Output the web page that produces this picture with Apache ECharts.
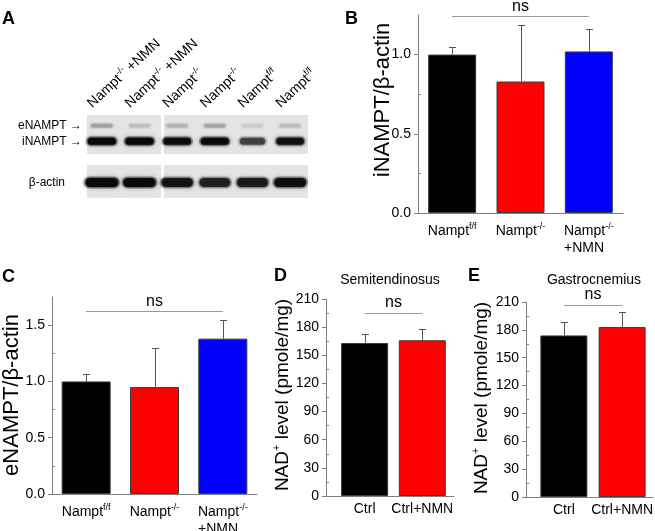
<!DOCTYPE html>
<html><head><meta charset="utf-8">
<script src="https://cdn.jsdelivr.net/npm/echarts@6/dist/echarts.min.js"></script>
<style>html,body{margin:0;padding:0;background:#fff}#c{width:655px;height:531px}</style>
</head><body><div id="c"></div>
<script>
// ---------- Panel A : western blot ----------
const laneGenotype = ['-/-', '-/-', '-/-', '-/-', 'f/f', 'f/f'];
const laneTreatment = ['+NMN', '+NMN', '', '', '', ''];
const blotRowsUpper = ['eNAMPT', 'iNAMPT'];
const blotRowsLower = ['β-actin'];
const eNamptBand = [0.22, 0.12, 0.16, 0.20, 0.08, 0.13];
const iNamptBand = [0.95, 0.95, 0.88, 0.92, 0.55, 0.85];
const actinBand = [0.95, 0.92, 0.80, 0.72, 0.76, 0.86];

// ---------- Panel B : iNAMPT/β-actin ----------
const groupGenotype = ['f/f', '-/-', '-/-'];
const groupTreatment = ['', '', '+NMN'];
const iNamptMean = [1.00, 0.83, 1.02];
const iNamptSem = [0.05, 0.36, 0.14];
const iNamptTicks = [0, 0.5, 1.0];
const iNamptMinor = [0.25, 0.75];

// ---------- Panel C : eNAMPT/β-actin ----------
const eNamptMean = [1.00, 0.95, 1.38];
const eNamptSem = [0.07, 0.35, 0.17];
const eNamptTicks = [0, 0.5, 1.0, 1.5];
const eNamptMinor = [0.25, 0.75, 1.25];

// ---------- Panels D, E : NAD+ level ----------
const nadGroups = ['Ctrl', 'Ctrl+NMN'];
const nadSemitendMean = [163, 166];
const nadSemitendSem = [10, 12];
const nadGastroMean = [174, 183];
const nadGastroSem = [15, 16];
const nadTicks = [0, 30, 60, 90, 120, 150, 180, 210];
const nadMinor = [15, 45, 75, 105, 135, 165, 195];

const groupColors = ['#000000', '#ff0000', '#0000ff'];
const FONT = '"Liberation Sans", Arial, sans-serif';
const AXIS_GRAY = '#808080';

const chart = echarts.init(document.getElementById('c'), null, {renderer: 'canvas'});

function crisp(v) { return Math.round(v) + 0.5; }

function errorItem(params, api) {
  const x = api.value(0), m = api.value(1), s = api.value(2);
  const b = api.coord([x, m]);
  const t = api.coord([x, m + s]);
  const cx = crisp(b[0]), ty = crisp(t[1]);
  const cap = 3.5;
  return {type: 'group', children: [
    {type: 'line', shape: {x1: cx, y1: b[1], x2: cx, y2: ty}, style: {stroke: '#555', lineWidth: 1}},
    {type: 'line', shape: {x1: cx - cap, y1: ty, x2: cx + cap, y2: ty}, style: {stroke: '#555', lineWidth: 1}}
  ]};
}

function bandRender(rowDims) {
  return function (params, api) {
    const lane = api.value(0), row = api.value(1), a = api.value(2);
    const c = api.coord([lane, row]);
    const laneW = api.size([1, 0])[0];
    const d = rowDims[row];
    const w = laneW * d.w * (0.75 + 0.25 * a);
    const h = d.h;
    return {type: 'group', children: [
      {type: 'rect', shape: {x: c[0] - w / 2 - 2, y: c[1] - h / 2 - 1.5, width: w + 4, height: h + 3, r: (h + 3) / 2},
        style: {fill: 'rgba(30,30,30,' + (a * 0.35) + ')', shadowBlur: 5, shadowColor: 'rgba(30,30,30,' + (a * 0.5) + ')'}},
      {type: 'rect', shape: {x: c[0] - w / 2, y: c[1] - h / 2, width: w, height: h, r: h / 2},
        style: {fill: 'rgba(8,8,8,' + a + ')', shadowBlur: 3, shadowColor: 'rgba(8,8,8,' + a + ')'}}
    ]};
  };
}

function laneLabel(i) {
  let s = '{n|Nampt}{s|' + laneGenotype[i] + '}';
  if (laneTreatment[i]) s += '{n| ' + laneTreatment[i] + '}';
  return s;
}
function groupLabel(v, i) {
  let s = '{n|Nampt}{s|' + groupGenotype[i] + '}';
  if (groupTreatment[i]) s += '\n{l|' + groupTreatment[i] + '}';
  return s;
}
const supRich = {
  n: {fontSize: 14, lineHeight: 18, fontFamily: FONT, color: '#000'},
  s: {fontSize: 9, lineHeight: 10, verticalAlign: 'top', fontFamily: FONT, color: '#000'},
  l: {fontSize: 14, lineHeight: 16, fontFamily: FONT, color: '#000', align: 'left'}
};
const supRichG = {
  n: {fontSize: 14, lineHeight: 18, fontFamily: FONT, fill: '#000'},
  s: {fontSize: 9, lineHeight: 10, verticalAlign: 'top', fontFamily: FONT, fill: '#000'}
};

function mainY(gridIndex, max, ticks, fmt) {
  return {
    type: 'value', gridIndex: gridIndex, min: 0, max: max, position: 'left',
    axisLine: {show: true, lineStyle: {color: AXIS_GRAY, width: 1}},
    axisTick: {show: true, inside: false, length: 4, customValues: ticks, lineStyle: {color: AXIS_GRAY}},
    axisLabel: {show: true, customValues: ticks, formatter: fmt, margin: 7, fontSize: 14, fontFamily: FONT, color: '#000'},
    splitLine: {show: false}
  };
}
function minorY(gridIndex, max, ticks) {
  return {
    type: 'value', gridIndex: gridIndex, min: 0, max: max, position: 'left', offset: 0,
    axisLine: {show: false},
    axisTick: {show: true, inside: true, length: 3, customValues: ticks, lineStyle: {color: AXIS_GRAY}},
    axisLabel: {show: false},
    splitLine: {show: false}
  };
}
function catX(gridIndex) {
  return {
    type: 'category', gridIndex: gridIndex, data: groupGenotype.map((g, i) => i),
    axisLine: {show: true, lineStyle: {color: AXIS_GRAY}},
    axisTick: {show: false},
    axisLabel: {formatter: groupLabel, rich: supRich, margin: 9, interval: 0}
  };
}
function valX(gridIndex, min, max) {
  return {
    type: 'value', gridIndex: gridIndex, min: min, max: max,
    axisLine: {show: true, onZero: false, lineStyle: {color: AXIS_GRAY}},
    axisTick: {show: false},
    splitLine: {show: false},
    axisLabel: {customValues: [1, 2], formatter: v => nadGroups[Math.round(v) - 1], margin: 6, fontSize: 14, fontFamily: FONT, color: '#000'}
  };
}
function nsLine(y0, x0, x1, y) {
  return {
    silent: true, symbol: ['none', 'none'], animation: false,
    lineStyle: {color: '#9a9a9a', width: 1, type: 'solid'},
    label: {show: true, position: 'insideMiddleTop', formatter: 'ns', fontSize: 16, fontFamily: FONT, color: '#000', distance: 2},
    emphasis: {disabled: true},
    data: [[{coord: [x0, y]}, {coord: [x1, y]}]]
  };
}
function barSeries(xi, yi, xs, mean, width, ns) {
  return {
    type: 'bar', xAxisIndex: xi, yAxisIndex: yi, barWidth: width, animation: false,
    data: mean.map((m, i) => ({value: xs ? [xs[i], m] : m, itemStyle: {color: groupColors[i]}})),
    itemStyle: {borderColor: '#3a3a3a', borderWidth: 1},
    markLine: ns
  };
}
function errSeries(xi, yi, xs, mean, sem) {
  return {
    type: 'custom', xAxisIndex: xi, yAxisIndex: yi, z: 5, animation: false, silent: true,
    encode: {x: 0, y: 1},
    renderItem: errorItem,
    data: mean.map((m, i) => [xs ? xs[i] : i, m, sem[i]])
  };
}

const upperBandData = [];
eNamptBand.forEach((a, i) => upperBandData.push([i, 0, a]));
iNamptBand.forEach((a, i) => upperBandData.push([i, 1, a]));
const lowerBandData = actinBand.map((a, i) => [i, 0, a]);

const letter = (t, x, y) => ({type: 'text', x: x, y: y, z: 10,
  style: {text: t, fontSize: 18, fontWeight: 'bold', fontFamily: FONT, fill: '#000', align: 'left', verticalAlign: 'middle'}});
const yTitle = (t, x, y, size) => ({type: 'text', x: x, y: y, rotation: Math.PI / 2, z: 10,
  style: {text: t, fontSize: size, lineHeight: size + 4, fontFamily: FONT, fill: '#000', align: 'center', verticalAlign: 'middle',
    rich: {s: {fontSize: Math.round(size * 0.6), lineHeight: 10, verticalAlign: 'top', fontFamily: FONT, fill: '#000'}}}});
const plainText = (t, x, y, size) => ({type: 'text', x: x, y: y, z: 10,
  style: {text: t, fontSize: size, fontFamily: FONT, fill: '#000', align: 'center', verticalAlign: 'middle'}});
const membrane = (x, y, w, h) => ({type: 'rect', z: 0, shape: {x: x, y: y, width: w, height: h},
  style: {fill: '#e4e4e4'}});

const baseGraphic = [
  membrane(87, 115, 74, 39), membrane(164, 115, 144, 39),
  membrane(87, 165, 74, 33), membrane(164, 165, 144, 33),
  letter('A', 2, 19), letter('B', 345, 19), letter('C', 2, 277), letter('D', 274, 276), letter('E', 468, 276),
  yTitle('iNAMPT/β-actin', 383, 100, 22),
  yTitle('eNAMPT/β-actin', 12, 395, 22),
  yTitle('NAD{s|+} level (pmole/mg)', 283, 395, 19),
  yTitle('NAD{s|+} level (pmole/mg)', 482, 398, 19),
  plainText('Semitendinosus', 390, 280, 14),
  plainText('Gastrocnemius', 594, 280, 14)
];

const option = {
  backgroundColor: '#fff',
  animation: false,
  textStyle: {fontFamily: FONT},
  grid: [
    {left: 83, top: 118, width: 226, height: 31, outerBoundsMode: 'none'},
    {left: 83, top: 172, width: 226, height: 21, outerBoundsMode: 'none'},
    {left: 418, top: 15, width: 205, height: 198, outerBoundsMode: 'none'},
    {left: 52, top: 297, width: 205, height: 197, outerBoundsMode: 'none'},
    {left: 326, top: 299, width: 128, height: 197, outerBoundsMode: 'none'},
    {left: 526, top: 302, width: 127, height: 195, outerBoundsMode: 'none'}
  ],
  xAxis: [
    {type: 'category', gridIndex: 0, position: 'top', data: laneGenotype.map((g, i) => i),
      axisLine: {show: false}, axisTick: {show: false}, axisLabel: {show: false}},
    {type: 'category', gridIndex: 1, data: laneGenotype.map((g, i) => i), show: false},
    catX(2),
    catX(3),
    valX(4, 0.33, 2.55),
    valX(5, 0.35, 2.53)
  ],
  yAxis: [
    {type: 'category', gridIndex: 0, data: blotRowsUpper, inverse: true,
      axisLine: {show: false}, axisTick: {show: false},
      axisLabel: {formatter: v => v + ' →', margin: 1, fontSize: 12, fontFamily: FONT, color: '#000', interval: 0, hideOverlap: false}},
    {type: 'category', gridIndex: 1, data: blotRowsLower,
      axisLine: {show: false}, axisTick: {show: false},
      axisLabel: {margin: 18, fontSize: 12, fontFamily: FONT, color: '#000', interval: 0}},
    mainY(2, 1.25, iNamptTicks, v => v.toFixed(1)),
    minorY(2, 1.25, iNamptMinor),
    mainY(3, 1.75, eNamptTicks, v => v.toFixed(1)),
    minorY(3, 1.75, eNamptMinor),
    mainY(4, 210, nadTicks, v => String(v)),
    minorY(4, 210, nadMinor),
    mainY(5, 210, nadTicks, v => String(v)),
    minorY(5, 210, nadMinor)
  ],
  series: [
    {type: 'custom', xAxisIndex: 0, yAxisIndex: 0, silent: true, z: 3,
      renderItem: bandRender([{w: 0.72, h: 4}, {w: 0.76, h: 7}]), data: upperBandData},
    {type: 'custom', xAxisIndex: 1, yAxisIndex: 1, silent: true, z: 3,
      renderItem: bandRender([{w: 0.88, h: 9}]), data: lowerBandData},
    barSeries(2, 2, null, iNamptMean, 48, nsLine(2, 0, 2, 1.24)),
    errSeries(2, 2, null, iNamptMean, iNamptSem),
    barSeries(3, 4, null, eNamptMean, 49, nsLine(4, 0, 2, 1.62)),
    errSeries(3, 4, null, eNamptMean, eNamptSem),
    barSeries(4, 6, [1, 2], nadSemitendMean, 47, nsLine(6, 1, 2, 195)),
    errSeries(4, 6, [1, 2], nadSemitendMean, nadSemitendSem),
    barSeries(5, 8, [1, 2], nadGastroMean, 47, nsLine(8, 1, 2, 207)),
    errSeries(5, 8, [1, 2], nadGastroMean, nadGastroSem)
  ],
  graphic: baseGraphic
};
chart.setOption(option);

// lane labels of the blot, placed at the lane positions of the blot's category axis
const laneTexts = laneGenotype.map((g, i) => {
  const px = chart.convertToPixel({xAxisIndex: 0}, i);
  return {type: 'text', x: px - 6, y: 112, rotation: 43 * Math.PI / 180, z: 10,
    style: {text: laneLabel(i), rich: supRichG, fontFamily: FONT, align: 'left', verticalAlign: 'bottom'}};
});
chart.setOption({graphic: baseGraphic.concat(laneTexts)});
</script></body></html>
